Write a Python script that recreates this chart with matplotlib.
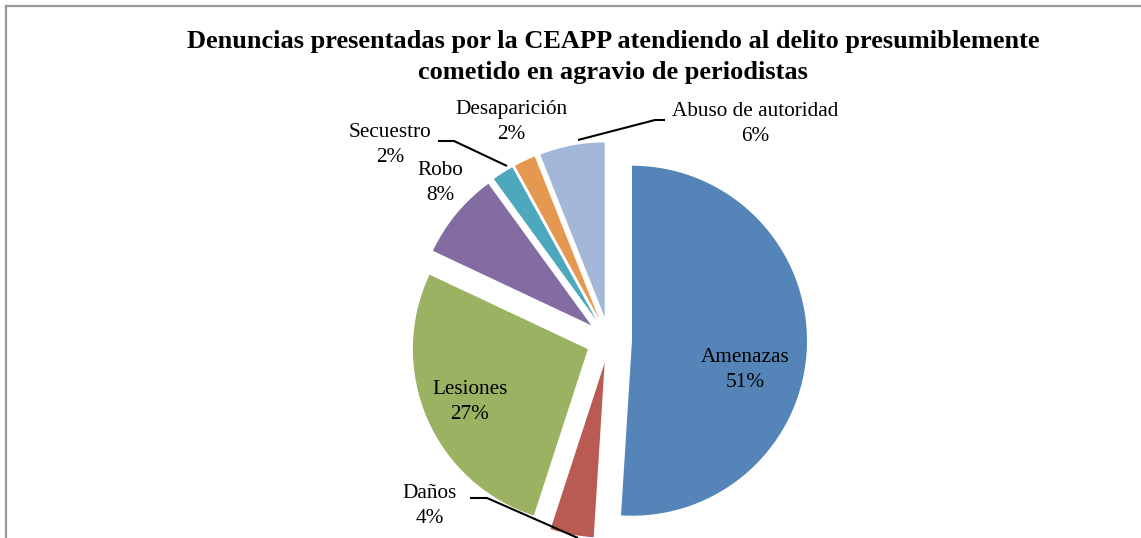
import matplotlib
matplotlib.use("Agg")
import matplotlib.pyplot as plt
from matplotlib.lines import Line2D

# ---- data ----
categories = ["Amenazas", "Daños", "Lesiones", "Robo", "Secuestro",
              "Desaparición", "Abuso de autoridad"]
values = [51, 4, 27, 8, 2, 2, 6]
colors = ["#5585B8", "#BA5B53", "#9BB262", "#836CA2", "#4DA8BE",
          "#E5984F", "#A3B7D9"]
title = ("Denuncias presentadas por la CEAPP atendiendo al delito presumiblemente\n"
         "cometido en agravio de periodistas")

W, H = 1141, 538
fig = plt.figure(figsize=(W / 100, H / 100), dpi=100)
ax = fig.add_axes([0, 0, 1, 1])

def Y(y):
    return H - y

center = (609, Y(340))
radius = 175
explode = [23] * len(values)

ax.pie(values, colors=colors, startangle=90, counterclock=False,
       center=center, radius=radius, explode=explode,
       wedgeprops=dict(linewidth=0))
ax.set_xlim(0, W)
ax.set_ylim(0, H)
ax.set_aspect('equal')
ax.axis('off')

serif = ["Liberation Serif", "DejaVu Serif"]
fs = 15.3
pct = [f"{v}%" for v in values]
label_pos = {
    "Amenazas": (745, 370),
    "Daños": (430, 506),
    "Lesiones": (470, 402),
    "Robo": (440, 183),
    "Secuestro": (390, 145),
    "Desaparición": (511, 122),
    "Abuso de autoridad": (755, 124),
}
for cat, p in zip(categories, pct):
    x, y = label_pos[cat]
    ax.text(x, Y(y), f"{cat}\n{p}", ha="center", va="center", fontsize=fs,
            family=serif, linespacing=1.36, color="black")

# leader lines
leaders = [
    [(470, 498), (487, 498), (578, 538)],
    [(438, 141), (454, 141), (507, 166)],
    [(665, 120), (655, 120), (578, 140)],
]
for pts in leaders:
    ax.plot([p[0] for p in pts], [Y(p[1]) for p in pts], color="black",
            lw=1.5, solid_capstyle="butt")

fig.text(613 / W, 1 - 57 / H, title, ha="center", va="center",
         fontsize=19, fontweight="bold", family=serif, linespacing=1.45)

# chart border (top and left visible)
fig.add_artist(Line2D([6 / W, 1], [1 - 6 / H, 1 - 6 / H], color="#999999",
                      lw=1.6, transform=fig.transFigure))
fig.add_artist(Line2D([6 / W, 6 / W], [0, 1 - 6 / H], color="#999999",
                      lw=1.6, transform=fig.transFigure))

fig.savefig("out.png", dpi=100)
